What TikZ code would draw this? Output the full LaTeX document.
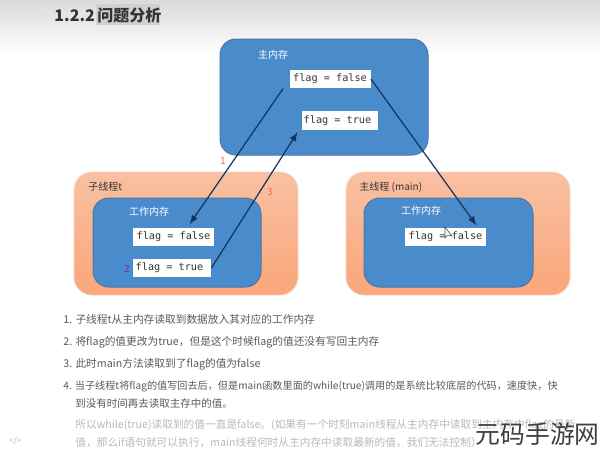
\documentclass[tikz,border=0pt]{standalone}
\usepackage{fontspec}
\setmainfont{Noto Sans CJK SC}
\newfontfamily\codefont{DejaVu Sans Mono}
\usetikzlibrary{calc}
\definecolor{memblue}{RGB}{ 74, 140, 203 }
\definecolor{memedge}{RGB}{ 72, 118, 170 }
\definecolor{threadtop}{RGB}{ 249, 192, 162 }
\definecolor{threadbot}{RGB}{ 250, 166, 122 }
\definecolor{arrowblue}{RGB}{ 18, 50, 92 }
\definecolor{steptext}{RGB}{ 232, 110, 90 }
\definecolor{bodytext}{RGB}{ 90, 90, 90 }
\definecolor{fadetext}{RGB}{ 185, 185, 185 }
\begin{document}
\begin{tikzpicture}[x=0.5pt,y=-0.5pt,font=\fontsize{5}{6}\selectfont]
\tikzstyle{mem box}=[draw=memedge,line width=.5pt,fill=memblue,rounded corners=8pt,inner sep=0]
\tikzstyle{thread box}=[top color=threadtop,bottom color=threadbot,draw=threadtop!70!white,line width=.4pt,rounded corners=9pt,inner sep=0]
\tikzstyle{flag box}=[fill=white,inner sep=0,minimum height=9.2pt,font=\codefont\fontsize{5.1}{6}\selectfont,text=black!80]
\tikzstyle{mem title}=[text=white,font=\fontsize{5}{6}\selectfont]
\tikzstyle{thread title}=[text=black!80,anchor=west]
\tikzstyle{flow}=[arrowblue,line width=.6pt,-latex]
\tikzstyle{step num}=[text=steptext]
\tikzstyle{body line}=[anchor=west,text=bodytext,inner sep=0,font=\fontsize{5.35}{6}\selectfont]
\tikzstyle{fade line}=[anchor=west,text=fadetext,inner sep=0,font=\fontsize{5.35}{6}\selectfont]

\useasboundingbox (0,0) rectangle (600,451);
\fill[white] (0,0) rectangle (600,451);
\shade[top color=black!14,bottom color=white] (0,0) rectangle (600,56);

% heading
\fill[black!18] (96,4) rectangle (160,25);
\node(head)[anchor=west,inner sep=0,text=black!80,font=\bfseries\fontsize{8}{10}\selectfont] at (54,15) {1.2.2\hspace{1.2pt}问题分析};
\draw[black!12,line width=.6pt] (38,10) -- (48,10) (38,13) -- (48,13) (38,16) -- (48,16);

% memory and thread boxes
\node(main)[mem box,minimum width=104pt,minimum height=58pt] at (324,97) {};
\node(left)[thread box,minimum width=112pt,minimum height=61.5pt] at (186,233.5) {};
\node(right)[thread box,minimum width=112pt,minimum height=61.5pt] at (458,233.5) {};
\node(leftmem)[mem box,minimum width=84pt,minimum height=44.5pt] at (177,242.5) {};
\node(rightmem)[mem box,minimum width=84.5pt,minimum height=44.5pt] at (448.5,242.5) {};

\node(maintitle)[mem title] at (273,55) {主内存};
\node(lefttitle)[thread title,inner sep=0] at (88,187) {子线程t};
\node(righttitle)[thread title,inner sep=0] at (359,187) {主线程 (main)};
\node(leftmemtitle)[mem title] at (149,212) {工作内存};
\node(rightmemtitle)[mem title] at (421,211) {工作内存};

% flag values
\node(mainfalse)[flag box,minimum width=40.5pt] at (330,79) {flag = false};
\node(maintrue)[flag box,minimum width=38pt] at (340,120.5) {flag = true\rule{2.5pt}{0pt}};
\node(leftfalse)[flag box,minimum width=40.5pt] at (173.5,237) {flag = false};
\node(lefttrue)[flag box,minimum width=39pt] at (172,268) {flag = true\rule{2.5pt}{0pt}};
\node(rightfalse)[flag box,minimum width=40.5pt] at (445.5,237) {flag = false};

% reads and writes
\draw[flow] ($(mainfalse.south west)+(-6,0)$) -- ($(leftfalse.north)+(16,-3)$);
\draw[flow] (lefttrue.east) -- ($(maintrue.south west)+(-4,2)$);
\draw[flow] (mainfalse.east) -- ($(rightfalse.north)+(31,-2)$);

% step numbers
\node(one)[step num] at (223,161) {1};
\node(two)[step num,text=steptext!45!blue] at (127,269) {2};
\node(three)[step num] at (270,192) {3};

% pointer
\draw[black!70,line width=.3pt,fill=white] (445,227) -- (445,238) -- (448,235) -- (452,236) -- cycle;

% notes
\node(note1)[body line] at (63,319) {1. 子线程t从主内存读取到数据放入其对应的工作内存};
\node(note2)[body line] at (63,342) {2. 将flag的值更改为true，但是这个时候flag的值还没有写回主内存};
\node(note3)[body line] at (63,364) {3. 此时main方法读取到了flag的值为false};
\node(note4)[body line,font=\fontsize{5.07}{6}\selectfont] at (63,386) {4. 当子线程t将flag的值写回去后，但是main函数里面的while(true)调用的是系统比较底层的代码，速度快，快};
\node(note5)[body line,font=\fontsize{5.25}{6}\selectfont] at (75,404) {到没有时间再去读取主存中的值。};
\node(note6)[fade line] at (75,425) {所以while(true)读取到的值一直是false。(如果有一个时刻main线程从主内存中读取到主内存中flag的最新};
\node(note7)[fade line] at (75,442) {值，那么if语句就可以执行，main线程何时从主内存中读取最新的值，我们无法控制）};
\node(code)[fade line,font=\fontsize{4}{5}\selectfont] at (9,441) {</>};

% site mark
\node(site)[anchor=east,inner sep=0,text=black!75,font=\fontsize{12.4}{15}\selectfont] at (600,434) {元码手游网};

\end{tikzpicture}
\end{document}
